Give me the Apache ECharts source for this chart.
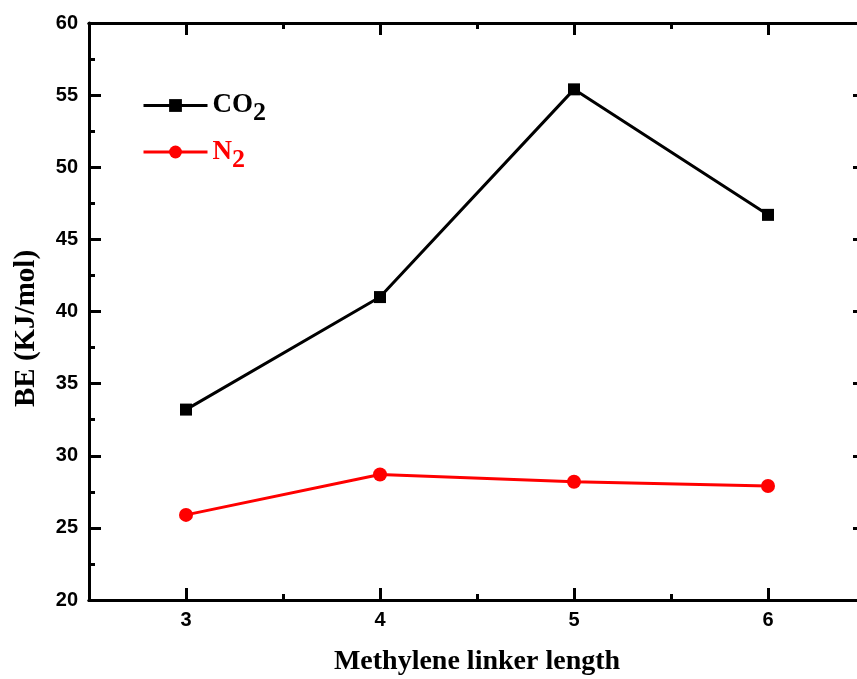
<!DOCTYPE html>
<html>
<head>
<meta charset="utf-8">
<script src="https://cdn.jsdelivr.net/npm/echarts@6/dist/echarts.min.js"></script>
<style>
  html, body { margin: 0; padding: 0; background: #fff; }
  #chart { width: 857px; height: 679px; }
</style>
</head>
<body>
<div id="chart"></div>
<script>
// data
var linkerLength = [3, 4, 5, 6];
var co2BE = [33.2, 41.0, 55.4, 46.7];
var n2BE = [25.9, 28.7, 28.2, 27.9];
var xMajorTicks = [3, 4, 5, 6];
var xMinorTicks = [3.5, 4.5, 5.5];

function pairs(xs, ys) {
    var out = [];
    for (var i = 0; i < xs.length; i++) out.push([xs[i], ys[i]]);
    return out;
}

var serif = '"Liberation Serif", "Times New Roman", serif';
var sans = '"Liberation Sans", Arial, sans-serif';
var axisLine = { show: true, lineStyle: { color: '#000', width: 3 } };

function xAx(pos, ticks, len, withLabel) {
    var ax = {
        type: 'value', position: pos, min: 2.5, max: 6.5, interval: 0.5,
        axisLine: axisLine,
        axisTick: { show: true, inside: true, length: len, customValues: ticks,
            lineStyle: { color: '#000', width: 3 } },
        axisLabel: { show: false },
        splitLine: { show: false }
    };
    if (withLabel) {
        ax.axisLabel = { show: true, customValues: ticks, margin: 10,
            color: '#000', fontSize: 20, fontWeight: 'bold', fontFamily: sans };
        ax.name = 'Methylene linker length';
        ax.nameLocation = 'middle';
        ax.nameGap = 48;
        ax.nameTextStyle = { color: '#000', fontSize: 28, fontWeight: 'bold', fontFamily: serif };
    }
    return ax;
}

function yAx(pos, withLabel) {
    var ax = {
        type: 'value', position: pos, min: 20, max: 60, interval: 5,
        axisLine: axisLine,
        axisTick: { show: true, inside: true, length: 12, lineStyle: { color: '#000', width: 3 } },
        minorTick: { show: true, splitNumber: 2, length: 6, lineStyle: { color: '#000', width: 3 } },
        axisLabel: { show: false },
        splitLine: { show: false }
    };
    if (withLabel) {
        ax.axisLabel = { show: true, margin: 11, color: '#000', fontSize: 20,
            fontWeight: 'bold', fontFamily: sans };
        ax.name = 'BE (KJ/mol)';
        ax.nameLocation = 'middle';
        ax.nameGap = 48;
        ax.nameTextStyle = { color: '#000', fontSize: 29, fontWeight: 'bold', fontFamily: serif,
            padding: [0, 34, 0, 0] };
    }
    return ax;
}

var chart = echarts.init(document.getElementById('chart'));
chart.setOption({
    backgroundColor: '#fff',
    animation: false,
    grid: { left: 89, top: 23, width: 776, bottom: 79, containLabel: false, outerBoundsMode: 'none' },
    legend: {
        orient: 'vertical', left: 137, top: 87,
        itemWidth: 64, itemHeight: 16, itemGap: 12,
        data: ['CO2', 'N2'],
        lineStyle: { width: 3 },
        formatter: function (name) {
            return name === 'CO2' ? '{k|CO}{ks|2}' : '{r|N}{rs|2}';
        },
        textStyle: {
            fontFamily: serif, fontWeight: 'bold', fontSize: 27,
            rich: {
                k: { color: '#000', fontFamily: serif, fontWeight: 'bold', fontSize: 27 },
                ks: { color: '#000', fontFamily: serif, fontWeight: 'bold', fontSize: 26, padding: [16, 0, 0, 0] },
                r: { color: '#ff0000', fontFamily: serif, fontWeight: 'bold', fontSize: 27 },
                rs: { color: '#ff0000', fontFamily: serif, fontWeight: 'bold', fontSize: 26, padding: [16, 0, 0, 0] }
            }
        }
    },
    xAxis: [
        xAx('bottom', xMajorTicks, 12, true),
        xAx('bottom', xMinorTicks, 6, false),
        xAx('top', xMajorTicks, 12, false),
        xAx('top', xMinorTicks, 6, false)
    ],
    yAxis: [yAx('left', true), yAx('right', false)],
    series: [
        {
            name: 'CO2', type: 'line', xAxisIndex: 0, yAxisIndex: 0,
            data: pairs(linkerLength, co2BE),
            symbol: 'rect', symbolSize: 12,
            lineStyle: { color: '#000', width: 3 },
            itemStyle: { color: '#000' }
        },
        {
            name: 'N2', type: 'line', xAxisIndex: 0, yAxisIndex: 0,
            data: pairs(linkerLength, n2BE),
            symbol: 'circle', symbolSize: 14,
            lineStyle: { color: '#ff0000', width: 3 },
            itemStyle: { color: '#ff0000' }
        }
    ]
});
</script>
</body>
</html>
